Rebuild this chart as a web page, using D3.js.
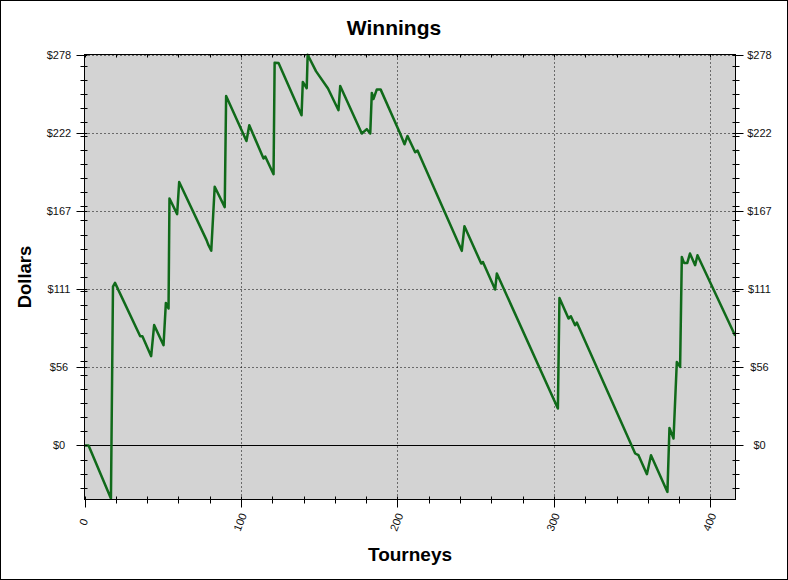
<!DOCTYPE html>
<html>
<head>
<meta charset="utf-8">
<script src="https://cdn.jsdelivr.net/npm/d3@7"></script>
<style>
  html, body { margin: 0; padding: 0; background: #fff; }
  svg { display: block; }
</style>
</head>
<body>
<script>
// ---- data ----
const tourneys = [0, 2.6, 16.9, 18.2, 19.5, 35.6, 37, 42.6, 44.5, 50.5, 52, 53.7, 54.3, 59.2, 60.5, 78, 79, 81, 83.2, 89.6, 90.5, 103.5, 105.3, 114.4, 115.5, 120.8, 121.5, 124, 138.7, 139.5, 142, 142.6, 148, 155.6, 162.3, 163.4, 177.2, 180.4, 182.6, 183.6, 184.7, 186.8, 189.2, 201.7, 204.5, 206.4, 211.3, 212.8, 241.1, 242.8, 253.5, 254.6, 262.4, 263.5, 302.5, 303.5, 309.3, 310.8, 313.5, 314.6, 351.9, 354, 359.4, 362, 372.5, 373.8, 376.4, 378.5, 380.6, 381.7, 383.1, 385.2, 386.9, 390.2, 391.7, 415.8];
const dollars  = [0, 0, -37.7, 113, 115.6, 77.7, 77.7, 63.5, 85.6, 71.3, 101.4, 97.4, 175.6, 164.5, 187.3, 146, 143, 138.5, 184, 169.5, 248.5, 216.5, 227.7, 204, 205.5, 192.9, 272.2, 272, 234.8, 258.5, 254, 277.8, 266, 253.8, 238.4, 255.6, 221.8, 224.9, 221.8, 250.7, 246.4, 253.2, 253.2, 221.8, 214.2, 220.1, 208.5, 209.7, 138.4, 155.9, 129.4, 130.5, 110.9, 122.3, 26.3, 104.9, 90.3, 91.9, 85.5, 87.4, -5.7, -6.9, -20.4, -6.9, -33, 12.5, 5, 59.4, 55.9, 134.1, 129.8, 129.8, 136.5, 128.2, 135.3, 78];

const yTickValues = [0, 55.6, 111.2, 166.8, 222.4, 278];
const yTickLabels = ["$0", "$56", "$111", "$167", "$222", "$278"];
const yMinorTicks = [-30, -20, -10, 10, 20, 30, 40, 50, 60, 70, 80, 90, 100, 110, 120, 130, 140, 150, 160, 170, 180, 190, 200, 210, 220, 230, 240, 250, 260, 270];
const xTickValues = [0, 100, 200, 300, 400];
const xTickLabels = ["0", "100", "200", "300", "400"];
const xMinorTicks = [20, 40, 60, 80, 120, 140, 160, 180, 220, 240, 260, 280, 320, 340, 360, 380];

const chartTitle = "Winnings";
const xTitle = "Tourneys";
const yTitle = "Dollars";

// ---- layout ----
const W = 788, H = 580;
const L = 84.5, R = 735.5, T = 54.5, B = 499.5;

const x = d3.scaleLinear().domain([0, 416]).range([L, R]);
const y = d3.scaleLinear().domain([-38.4, 278]).range([B, T]);

const svg = d3.select("body").append("svg").attr("width", W).attr("height", H);

svg.append("rect").attr("x", 0.5).attr("y", 0.5).attr("width", W - 1).attr("height", H - 1)
  .attr("fill", "#fff").attr("stroke", "#000").attr("stroke-width", 1);

// plot background
svg.append("rect").attr("x", L).attr("y", T).attr("width", R - L).attr("height", B - T)
  .attr("fill", "#d3d3d3");

// dotted gridlines
const grid = svg.append("g").attr("stroke", "#000").attr("stroke-width", 1).attr("stroke-dasharray", "1,3");
xTickValues.filter(v => v > 0).forEach(v => {
  const px = Math.round(x(v)) + 0.5;
  grid.append("line").attr("x1", px).attr("x2", px).attr("y1", T).attr("y2", B);
});
yTickValues.filter(v => v !== 0).forEach(v => {
  const py = Math.round(y(v)) + 0.5;
  grid.append("line").attr("x1", L).attr("x2", R).attr("y1", py).attr("y2", py);
});

// zero line
const y0 = Math.round(y(0)) + 0.5;
svg.append("line").attr("x1", L).attr("x2", R).attr("y1", y0).attr("y2", y0)
  .attr("stroke", "#000").attr("stroke-width", 1);

// data line
const line = d3.line().x((d, i) => x(tourneys[i])).y(d => y(d));
svg.append("path").datum(dollars).attr("d", line)
  .attr("fill", "none").attr("stroke", "#106a1a").attr("stroke-width", 2.5)
  .attr("stroke-linejoin", "round");

// frame
svg.append("rect").attr("x", L).attr("y", T).attr("width", R - L).attr("height", B - T)
  .attr("fill", "none").attr("stroke", "#000").attr("stroke-width", 1);

// ticks
const ticks = svg.append("g").attr("stroke", "#000").attr("stroke-width", 1);
yMinorTicks.forEach(v => {
  const py = Math.round(y(v)) + 0.5;
  ticks.append("line").attr("x1", L - 4).attr("x2", L + 3).attr("y1", py).attr("y2", py);
  ticks.append("line").attr("x1", R - 3).attr("x2", R + 4).attr("y1", py).attr("y2", py);
});
yTickValues.forEach(v => {
  const py = Math.round(y(v)) + 0.5;
  ticks.append("line").attr("x1", L - 8).attr("x2", L + 3).attr("y1", py).attr("y2", py);
  ticks.append("line").attr("x1", R - 3).attr("x2", R + 8).attr("y1", py).attr("y2", py);
});
xMinorTicks.forEach(v => {
  const px = Math.round(x(v)) + 0.5;
  ticks.append("line").attr("x1", px).attr("x2", px).attr("y1", B - 3).attr("y2", B + 4);
  ticks.append("line").attr("x1", px).attr("x2", px).attr("y1", T).attr("y2", T + 3);
});
xTickValues.forEach(v => {
  const px = Math.round(x(v)) + 0.5;
  ticks.append("line").attr("x1", px).attr("x2", px).attr("y1", B - 3).attr("y2", B + 8);
  ticks.append("line").attr("x1", px).attr("x2", px).attr("y1", T).attr("y2", T + 3);
});

// tick labels
const lab = svg.append("g").attr("font-family", "Arial, 'Liberation Sans', sans-serif")
  .attr("font-size", 11).attr("fill", "#111");
yTickValues.forEach((v, i) => {
  lab.append("text").attr("x", 59).attr("y", y(v)).attr("text-anchor", "middle")
    .attr("dominant-baseline", "central").text(yTickLabels[i]);
  lab.append("text").attr("x", 759.5).attr("y", y(v)).attr("text-anchor", "middle")
    .attr("dominant-baseline", "central").text(yTickLabels[i]);
});
xTickValues.forEach((v, i) => {
  lab.append("text").attr("transform", `translate(${x(v) - 1},522) rotate(-68)`)
    .attr("text-anchor", "middle").attr("dominant-baseline", "central")
    .attr("font-size", 11).text(xTickLabels[i]);
});

// titles
const tf = "Arial, 'Liberation Sans', sans-serif";
svg.append("text").attr("x", 394).attr("y", 35).attr("text-anchor", "middle")
  .attr("font-family", tf).attr("font-weight", "bold").attr("font-size", 21).attr("fill", "#000")
  .text(chartTitle);
svg.append("text").attr("x", (L + R) / 2).attr("y", 561).attr("text-anchor", "middle")
  .attr("font-family", tf).attr("font-weight", "bold").attr("font-size", 19).attr("fill", "#000")
  .text(xTitle);
svg.append("text").attr("transform", `translate(31,${(T + B) / 2}) rotate(-90)`).attr("text-anchor", "middle")
  .attr("font-family", tf).attr("font-weight", "bold").attr("font-size", 18.5).attr("fill", "#000")
  .text(yTitle);
</script>
</body>
</html>
